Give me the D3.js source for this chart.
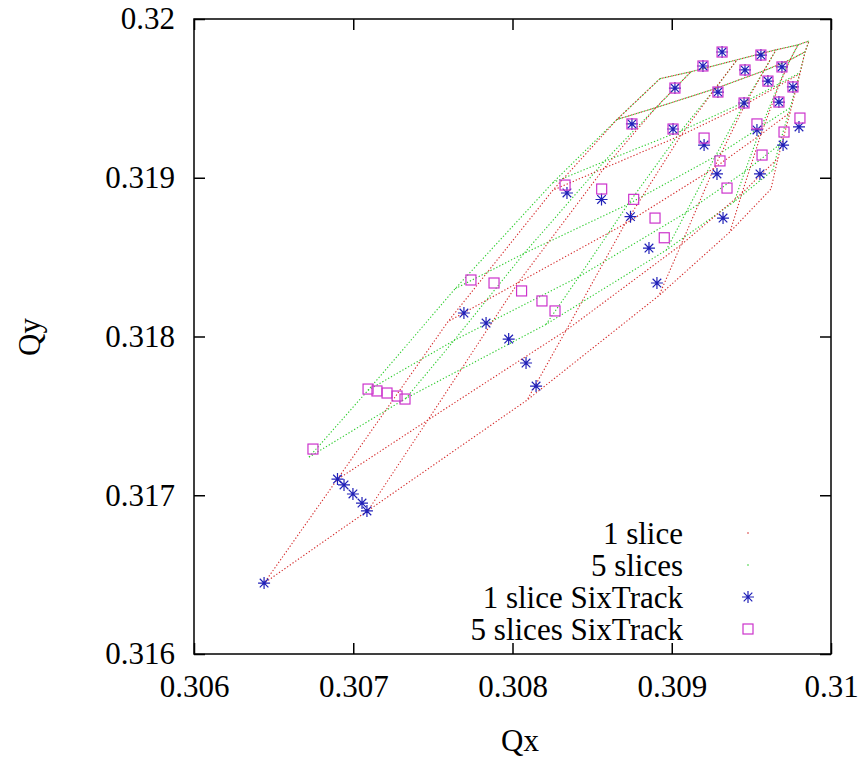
<!DOCTYPE html>
<html><head><meta charset="utf-8">
<script src="https://cdn.jsdelivr.net/npm/d3@7"></script>
<style>
body{margin:0;background:#fff}
</style>
</head><body>
<svg id="chart" width="862" height="758"></svg>
<script>
// Axis ticks
const xTicks = [0.306, 0.307, 0.308, 0.309, 0.31];
const xTickLabels = ["0.306", "0.307", "0.308", "0.309", "0.31"];
const yTicks = [0.316, 0.317, 0.318, 0.319, 0.32];
const yTickLabels = ["0.316", "0.317", "0.318", "0.319", "0.32"];

// Legend entries
const legendLabels = ["1 slice", "5 slices", "1 slice SixTrack", "5 slices SixTrack"];

// Footprint grids: one row per vertical amplitude step, six horizontal amplitude steps per row
const meshOneQx = [
  [0.306440, 0.307093, 0.308091, 0.308920, 0.309366, 0.309623],
  [0.306898, 0.307469, 0.308336, 0.309058, 0.309441, 0.309667],
  [0.307595, 0.308035, 0.308706, 0.309265, 0.309560, 0.309743],
  [0.308254, 0.308575, 0.309058, 0.309460, 0.309673, 0.309805],
  [0.308656, 0.308901, 0.309272, 0.309579, 0.309743, 0.309837],
  [0.308926, 0.309121, 0.309410, 0.309655, 0.309793, 0.309862]];
const meshOneQy = [
  [0.316446, 0.316904, 0.317599, 0.318258, 0.318659, 0.318929],
  [0.317098, 0.317474, 0.318038, 0.318577, 0.318903, 0.319123],
  [0.318094, 0.318339, 0.318709, 0.319060, 0.319273, 0.319411],
  [0.318922, 0.319060, 0.319267, 0.319461, 0.319580, 0.319655],
  [0.319367, 0.319442, 0.319561, 0.319674, 0.319743, 0.319793],
  [0.319624, 0.319668, 0.319743, 0.319806, 0.319837, 0.319862]];
const meshFiveQx = [
  [0.306722, 0.307330, 0.308210, 0.308965, 0.309392, 0.309635],
  [0.307093, 0.307633, 0.308418, 0.309089, 0.309459, 0.309675],
  [0.307640, 0.308072, 0.308725, 0.309273, 0.309564, 0.309744],
  [0.308254, 0.308575, 0.309058, 0.309460, 0.309673, 0.309805],
  [0.308656, 0.308901, 0.309272, 0.309579, 0.309743, 0.309837],
  [0.308926, 0.309121, 0.309410, 0.309655, 0.309793, 0.309862]];
const meshFiveQy = [
  [0.317240, 0.317610, 0.318076, 0.318544, 0.318849, 0.319048],
  [0.317662, 0.317975, 0.318377, 0.318780, 0.319039, 0.319207],
  [0.318301, 0.318523, 0.318833, 0.319134, 0.319323, 0.319442],
  [0.318970, 0.319102, 0.319295, 0.319478, 0.319591, 0.319662],
  [0.319367, 0.319442, 0.319561, 0.319674, 0.319743, 0.319793],
  [0.319624, 0.319668, 0.319743, 0.319806, 0.319837, 0.319862]];

// 1 slice SixTrack tunes (origin, then 7 amplitudes x 5 angles)
const sixOneQx = [0.306440,
  0.306901, 0.306942, 0.306998, 0.307055, 0.307086,
  0.307695, 0.307834, 0.307976, 0.308085, 0.308148,
  0.308342, 0.308559, 0.308741, 0.308857, 0.308907,
  0.308750, 0.309008, 0.309203, 0.309284, 0.309322,
  0.309020, 0.309290, 0.309454, 0.309535, 0.309554,
  0.309196, 0.309460, 0.309604, 0.309673, 0.309699,
  0.309316, 0.309560, 0.309692, 0.309761, 0.309799];
const sixOneQy = [0.316447,
  0.317102, 0.317065, 0.317008, 0.316951, 0.316901,
  0.318148, 0.318085, 0.317984, 0.317833, 0.317688,
  0.318904, 0.318863, 0.318755, 0.318557, 0.318337,
  0.319339, 0.319307, 0.319206, 0.319024, 0.318746,
  0.319565, 0.319540, 0.319471, 0.319301, 0.319024,
  0.319704, 0.319679, 0.319609, 0.319477, 0.319206,
  0.319792, 0.319773, 0.319698, 0.319572, 0.319320];

// 5 slices SixTrack tunes
const sixFiveQx = [0.306747,
  0.307093, 0.307149, 0.307212, 0.307275, 0.307325,
  0.307739, 0.307884, 0.308057, 0.308185, 0.308267,
  0.308330, 0.308560, 0.308761, 0.308895, 0.308953,
  0.308750, 0.309008, 0.309203, 0.309303, 0.309347,
  0.309020, 0.309290, 0.309454, 0.309535, 0.309567,
  0.309196, 0.309460, 0.309604, 0.309673, 0.309705,
  0.309316, 0.309560, 0.309692, 0.309761, 0.309805];
const sixFiveQy = [0.317291,
  0.317669, 0.317657, 0.317644, 0.317625, 0.317606,
  0.318356, 0.318337, 0.318287, 0.318224, 0.318161,
  0.318954, 0.318929, 0.318864, 0.318746, 0.318622,
  0.319339, 0.319307, 0.319250, 0.319106, 0.318935,
  0.319565, 0.319540, 0.319471, 0.319339, 0.319143,
  0.319704, 0.319679, 0.319609, 0.319477, 0.319288,
  0.319792, 0.319773, 0.319698, 0.319572, 0.319376];

const FONT = "'Liberation Serif', 'Times New Roman', Times, serif";
const FS = "31px";
const W = 862, H = 758;
const margin = {left: 194, right: 862 - 831, top: 19, bottom: 758 - 654};
const svg = d3.select("#chart");

const x = d3.scaleLinear().domain([0.306, 0.31]).range([margin.left, W - margin.right]);
const y = d3.scaleLinear().domain([0.316, 0.32]).range([H - margin.bottom, margin.top]);

// Grid lines of a footprint: rows at fixed vertical amplitude, columns at fixed horizontal amplitude
function gridLines(qx, qy) {
  const nodes = qx.map((row, j) => row.map((v, i) => [v, qy[j][i]]));
  const lines = nodes.map(row => row);
  for (let i = 0; i < nodes[0].length; i++) lines.push(nodes.map(row => row[i]));
  return lines;
}

const line = d3.line().x(d => x(d[0])).y(d => y(d[1]));
const plot = svg.append("g");

plot.selectAll("path.green").data(gridLines(meshFiveQx, meshFiveQy)).join("path")
  .attr("class", "green").attr("d", line).attr("fill", "none")
  .attr("stroke", "#2ccc2c").attr("stroke-width", 1.1).attr("stroke-dasharray", "1.3,2");
plot.selectAll("path.red").data(gridLines(meshOneQx, meshOneQy)).join("path")
  .attr("class", "red").attr("d", line).attr("fill", "none")
  .attr("stroke", "#d42a2a").attr("stroke-width", 1.1).attr("stroke-dasharray", "1.3,2")
  .attr("stroke-dashoffset", 1.6);

const starPath = "M-6,0H6M0,-6V6M-4.3,-4.3L4.3,4.3M-4.3,4.3L4.3,-4.3";
plot.selectAll("path.star").data(sixOneQx.map((v, i) => [v, sixOneQy[i]])).join("path")
  .attr("class", "star").attr("d", starPath)
  .attr("transform", d => `translate(${x(d[0])},${y(d[1])})`)
  .attr("stroke", "#2020b8").attr("stroke-width", 1.2).attr("fill", "none");
plot.selectAll("rect.sq").data(sixFiveQx.map((v, i) => [v, sixFiveQy[i]])).join("rect")
  .attr("class", "sq").attr("x", d => x(d[0]) - 5).attr("y", d => y(d[1]) - 5)
  .attr("width", 10).attr("height", 10)
  .attr("stroke", "#cc33cc").attr("stroke-width", 1.2).attr("fill", "none");

// Axes with inward ticks on all four sides
const tickLen = 11;
const ax = svg.append("g").attr("transform", `translate(0,${H - margin.bottom})`)
  .call(d3.axisBottom(x).tickValues(xTicks).tickFormat((d, i) => xTickLabels[i])
    .tickSizeInner(-tickLen).tickSizeOuter(0).tickPadding(21));
const axT = svg.append("g").attr("transform", `translate(0,${margin.top})`)
  .call(d3.axisTop(x).tickValues(xTicks).tickFormat("").tickSizeInner(-tickLen).tickSizeOuter(0));
const ay = svg.append("g").attr("transform", `translate(${margin.left},0)`)
  .call(d3.axisLeft(y).tickValues(yTicks).tickFormat((d, i) => yTickLabels[i])
    .tickSizeInner(-tickLen).tickSizeOuter(0).tickPadding(19));
const ayR = svg.append("g").attr("transform", `translate(${W - margin.right},0)`)
  .call(d3.axisRight(y).tickValues(yTicks).tickFormat("").tickSizeInner(-tickLen).tickSizeOuter(0));
[ax, axT, ay, ayR].forEach(g => {
  g.attr("font-family", FONT).attr("font-size", 31);
  g.select(".domain").remove();
  g.selectAll(".tick line").attr("stroke", "#000").attr("stroke-width", 1.5);
  g.selectAll("text").style("font-family", FONT).style("font-size", FS).attr("fill", "#000");
});

svg.append("rect").attr("x", margin.left).attr("y", margin.top)
  .attr("width", W - margin.left - margin.right).attr("height", H - margin.top - margin.bottom)
  .attr("fill", "none").attr("stroke", "#000").attr("stroke-width", 1.5);

svg.append("text").attr("x", 520).attr("y", 751).attr("text-anchor", "middle")
  .style("font-family", FONT).style("font-size", FS).text("Qx");
svg.append("text").attr("transform", "translate(40,337) rotate(-90)").attr("text-anchor", "middle")
  .style("font-family", FONT).style("font-size", FS).text("Qy");

// Legend
const legY = [533, 565, 597, 629];
const leg = svg.append("g");
legendLabels.forEach((t, i) => {
  leg.append("text").attr("x", 683).attr("y", legY[i]).attr("dy", "0.35em")
    .attr("text-anchor", "end").style("font-family", FONT).style("font-size", FS).text(t);
});
leg.append("circle").attr("cx", 748).attr("cy", legY[0]).attr("r", 0.8).attr("fill", "#d42a2a");
leg.append("circle").attr("cx", 748).attr("cy", legY[1]).attr("r", 0.8).attr("fill", "#2ccc2c");
leg.append("path").attr("d", starPath).attr("transform", `translate(748,${legY[2]})`)
  .attr("stroke", "#2020b8").attr("stroke-width", 1.2).attr("fill", "none");
leg.append("rect").attr("x", 743).attr("y", legY[3] - 5).attr("width", 10).attr("height", 10)
  .attr("stroke", "#cc33cc").attr("stroke-width", 1.2).attr("fill", "none");
</script>
</body></html>
